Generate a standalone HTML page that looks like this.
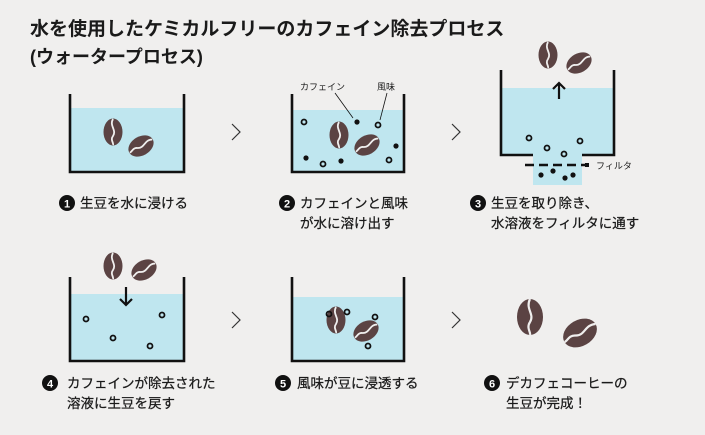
<!DOCTYPE html>
<html><head><meta charset="utf-8"><style>
html,body{margin:0;padding:0;background:#f0efee;}
svg{display:block}
text{font-family:"Liberation Sans","Noto Sans CJK JP",sans-serif;fill:#1a1a1a}
.l text{stroke:#1a1a1a;stroke-width:0.25}
</style></head><body>
<svg width="705" height="435" viewBox="0 0 705 435" xmlns="http://www.w3.org/2000/svg">
<defs>
<g id="bean"><ellipse cx="0" cy="0" rx="9.5" ry="13.5" fill="#5b4343"/><path d="M0,-13 C-4,-6 4,-2 0,4 C-3,8 1,11 0,13" stroke="#f0efee" stroke-width="1.8" fill="none"/></g>
<g id="bean2"><ellipse cx="0" cy="0" rx="13" ry="18" fill="#5b4343"/><path d="M0,-18 C-5,-8 5,-3 0,5 C-4,11 1,15 0,18" stroke="#f0efee" stroke-width="2.2" fill="none"/></g>
</defs>
<text x="30" y="35" font-size="19" font-weight="bold">水を使用したケミカルフリーのカフェイン除去プロセス</text>
<text x="30" y="63" font-size="18" font-weight="bold">(ウォータープロセス)</text>

<rect x="70" y="108" width="114" height="64" fill="#bfe6ef"/>
<path d="M70,94 V172 H184 V94" stroke="#111" stroke-width="2.6" fill="none"/>
<use href="#bean" x="113" y="132"/>
<use href="#bean" transform="translate(141,146) rotate(60)"/>
<path d="M232,124 L240,132 L232,140" stroke="#333" stroke-width="1.2" fill="none"/>

<rect x="292" y="110" width="112" height="62" fill="#bfe6ef"/>
<path d="M292,94 V172 H404 V94" stroke="#111" stroke-width="2.6" fill="none"/>
<use href="#bean" x="339" y="135"/>
<use href="#bean" transform="translate(367,145) rotate(60)"/>
<g fill="none" stroke="#111" stroke-width="1.8"><circle cx="304" cy="122" r="2.5"/><circle cx="378" cy="125" r="2.5"/><circle cx="323" cy="164" r="2.5"/><circle cx="389" cy="160" r="2.5"/></g>
<g fill="#111"><circle cx="357" cy="122" r="2.6"/><circle cx="396" cy="146" r="2.6"/><circle cx="306" cy="158" r="2.6"/><circle cx="341" cy="161" r="2.6"/></g>
<text x="300" y="90" font-size="9">カフェイン</text><text x="377" y="90" font-size="9">風味</text>
<path d="M335,93 L353,118 M387,93 L380,120" stroke="#111" stroke-width="0.8"/>
<path d="M452,124 L460,132 L452,140" stroke="#333" stroke-width="1.2" fill="none"/>

<rect x="501" y="88" width="113" height="67" fill="#bfe6ef"/>
<rect x="533" y="155" width="49" height="30" fill="#bfe6ef"/>
<path d="M501,70 V155 H533 M582,155 H614 V70" stroke="#111" stroke-width="2.6" fill="none"/>
<path d="M525,165 H585" stroke="#111" stroke-width="2.6" stroke-dasharray="9,5"/>
<rect x="585" y="163" width="4" height="4" fill="#111"/>
<text x="596" y="169" font-size="9">フィルタ</text>
<use href="#bean" x="548" y="55"/>
<use href="#bean" transform="translate(579,63) rotate(60)"/>
<path d="M559,99 V83 M553,89 L559,83 L565,89" stroke="#111" stroke-width="2.2" fill="none"/>
<g fill="none" stroke="#111" stroke-width="1.8"><circle cx="529" cy="138" r="2.5"/><circle cx="547" cy="148" r="2.5"/><circle cx="564" cy="154" r="2.5"/><circle cx="580" cy="141" r="2.5"/></g>
<g fill="#111"><circle cx="541" cy="175" r="2.6"/><circle cx="553" cy="171" r="2.6"/><circle cx="565" cy="178" r="2.6"/><circle cx="573" cy="175" r="2.6"/></g>

<g font-size="13.5" class="l">
<circle cx="67" cy="203" r="8" fill="#111"/><text x="67" y="207.5" font-size="11" font-weight="bold" text-anchor="middle" style="fill:#fff;stroke:none">1</text>
<text x="80" y="208">生豆を水に浸ける</text>
<circle cx="287" cy="203" r="8" fill="#111"/><text x="287" y="207.5" font-size="11" font-weight="bold" text-anchor="middle" style="fill:#fff;stroke:none">2</text>
<text x="300" y="208">カフェインと風味</text><text x="300" y="228">が水に溶け出す</text>
<circle cx="478" cy="203" r="8" fill="#111"/><text x="478" y="207.5" font-size="11" font-weight="bold" text-anchor="middle" style="fill:#fff;stroke:none">3</text>
<text x="491" y="208">生豆を取り除き、</text><text x="491" y="228">水溶液をフィルタに通す</text>
</g>

<rect x="70" y="294" width="114" height="67" fill="#bfe6ef"/>
<path d="M70,277 V361 H184 V277" stroke="#111" stroke-width="2.6" fill="none"/>
<use href="#bean" x="113" y="266"/>
<use href="#bean" transform="translate(144,270) rotate(60)"/>
<path d="M126,287 V305 M120,299 L126,305 L132,299" stroke="#111" stroke-width="2.2" fill="none"/>
<g fill="none" stroke="#111" stroke-width="1.8"><circle cx="86" cy="319" r="2.5"/><circle cx="162" cy="315" r="2.5"/><circle cx="113" cy="338" r="2.5"/><circle cx="150" cy="346" r="2.5"/></g>
<path d="M232,312 L240,320 L232,328" stroke="#333" stroke-width="1.2" fill="none"/>

<rect x="292" y="297" width="112" height="64" fill="#bfe6ef"/>
<path d="M292,277 V361 H404 V277" stroke="#111" stroke-width="2.6" fill="none"/>
<use href="#bean" x="336" y="320"/>
<use href="#bean" transform="translate(366,331) rotate(60)"/>
<g fill="none" stroke="#111" stroke-width="1.8"><circle cx="329" cy="314" r="2.5"/><circle cx="347" cy="312" r="2.5"/><circle cx="368" cy="346" r="2.5"/><circle cx="375" cy="317" r="2.5"/></g>
<path d="M452,312 L460,320 L452,328" stroke="#333" stroke-width="1.2" fill="none"/>

<use href="#bean2" x="530" y="317"/>
<use href="#bean2" transform="translate(580,333) rotate(60)"/>

<g font-size="13.5" class="l">
<circle cx="50" cy="383" r="8" fill="#111"/><text x="50" y="387.5" font-size="11" font-weight="bold" text-anchor="middle" style="fill:#fff;stroke:none">4</text>
<text x="67" y="388">カフェインが除去された</text><text x="67" y="408">溶液に生豆を戻す</text>
<circle cx="283" cy="383" r="8" fill="#111"/><text x="283" y="387.5" font-size="11" font-weight="bold" text-anchor="middle" style="fill:#fff;stroke:none">5</text>
<text x="297" y="388">風味が豆に浸透する</text>
<circle cx="492" cy="383" r="8" fill="#111"/><text x="492" y="387.5" font-size="11" font-weight="bold" text-anchor="middle" style="fill:#fff;stroke:none">6</text>
<text x="506" y="388">デカフェコーヒーの</text><text x="506" y="408">生豆が完成！</text>
</g>
</svg>
</body></html>
